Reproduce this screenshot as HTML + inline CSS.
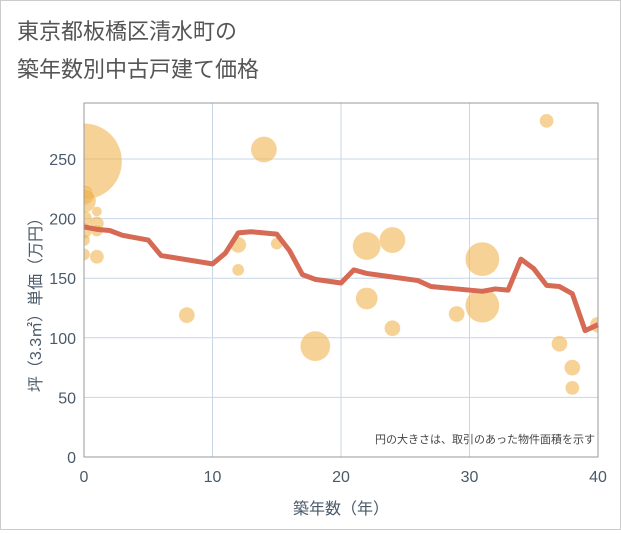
<!DOCTYPE html>
<html><head><meta charset="utf-8"><style>
body{margin:0;background:#fff;}
#c{position:relative;width:619px;height:528px;border:1px solid #ccc;font-family:"Liberation Sans","Noto Sans CJK JP",sans-serif;}
</style></head><body>
<div id="c">
<svg id="s" width="619" height="528" xmlns="http://www.w3.org/2000/svg">
<text x="16" y="38" font-size="22" fill="#555" font-family="Liberation Sans,Noto Sans CJK JP,sans-serif">東京都板橋区清水町の</text>
<text x="16" y="76" font-size="22" fill="#555" font-family="Liberation Sans,Noto Sans CJK JP,sans-serif">築年数別中古戸建て価格</text>
<g id="grid"></g><g id="bub"></g><g id="ln"></g><g id="ax"></g>
<text x="594" y="442" font-size="11" fill="#444" text-anchor="end" font-family="Liberation Sans,Noto Sans CJK JP,sans-serif">円の大きさは、取引のあった物件面積を示す</text>
<text x="340" y="513" font-size="16" fill="#4a5a6a" text-anchor="middle" font-family="Liberation Sans,Noto Sans CJK JP,sans-serif">築年数（年）</text>
<text transform="translate(40,300) rotate(-90)" font-size="16" fill="#4a5a6a" text-anchor="middle" font-family="Liberation Sans,Noto Sans CJK JP,sans-serif">坪（3.3㎡）単価（万円）</text>
</svg></div>
<script>
const xTicks=[0,10,20,30,40];
const yTicks=[0,50,100,150,200,250];
const lineX=[0,1,2,3,4,5,6,10,11,12,13,15,16,17,18,20,21,22,24,26,27,29,31,32,33,34,35,36,37,38,39,40];
const lineY=[193,191,190,186,184,182,169,162,171,188,189,187,173,153,149,146,157,154,151,148,143,141,139,141,140,166,158,144,143,137,106,111];
const bubX=[0,14,36,12,12,15,8,18,22,24,22,24,29,31,31,37,38,38,40,1,0,0,1,0,1,0,0,0,1];
const bubY=[248,258,282,178,157,179,119,93,177,182,133,108,120,166,127,95,75,58,111,168,220,215,206,200,196,190,182,170,190];
const bubR=[38,13,7,8,6,6,8,15,14,13,11,8,8,17,17,8,8,7,8,7,10,12,5,8,7,8,6,6,6];
const X0=83,X1=597,Y0=456,Y1=102;
const sx=v=>X0+v*(X1-X0)/40, sy=v=>Y0-v*1.192;
const NS="http://www.w3.org/2000/svg";
function mk(t,a,p){const e=document.createElementNS(NS,t);for(const k in a)e.setAttribute(k,a[k]);p.appendChild(e);return e;}
const g=document.getElementById('grid'),ax=document.getElementById('ax');
xTicks.forEach(v=>{const l=mk('line',{x1:sx(v),x2:sx(v),y1:Y1,y2:Y0,stroke:'#c8d6e6','stroke-width':1},g);


const t=mk('text',{x:sx(v),y:Y0+25,'font-size':16,fill:'#4a5a6a','text-anchor':'middle'},ax);t.textContent=v;

});
yTicks.forEach(v=>{const l=mk('line',{x1:X0,x2:X1,y1:sy(v),y2:sy(v),stroke:'#c8d6e6','stroke-width':1},g);


const t=mk('text',{x:X0-8,y:sy(v)+6,'font-size':16,fill:'#4a5a6a','text-anchor':'end'},ax);t.textContent=v;

});
const fr=mk('rect',{x:X0,y:Y1,width:X1-X0,height:Y0-Y1,fill:'none',stroke:'#999','stroke-width':1},ax);


const cp=mk('clipPath',{id:'cp'},g);mk('rect',{x:X0,y:Y1,width:X1-X0,height:Y0-Y1},cp);
const b=document.getElementById('bub');b.setAttribute('clip-path','url(#cp)');
bubX.forEach((v,i)=>{const c=mk('circle',{cx:sx(v),cy:sy(bubY[i]),r:bubR[i],fill:'rgba(240,180,80,0.6)',stroke:'rgba(255,255,255,0.5)','stroke-width':0.5},b);

});
const p=mk('polyline',{points:lineX.map((v,i)=>sx(v)+','+sy(lineY[i])).join(' '),fill:'none',stroke:'#d66a55','stroke-width':5,'stroke-linejoin':'round'},document.getElementById('ln'));


</script>
</body></html>
